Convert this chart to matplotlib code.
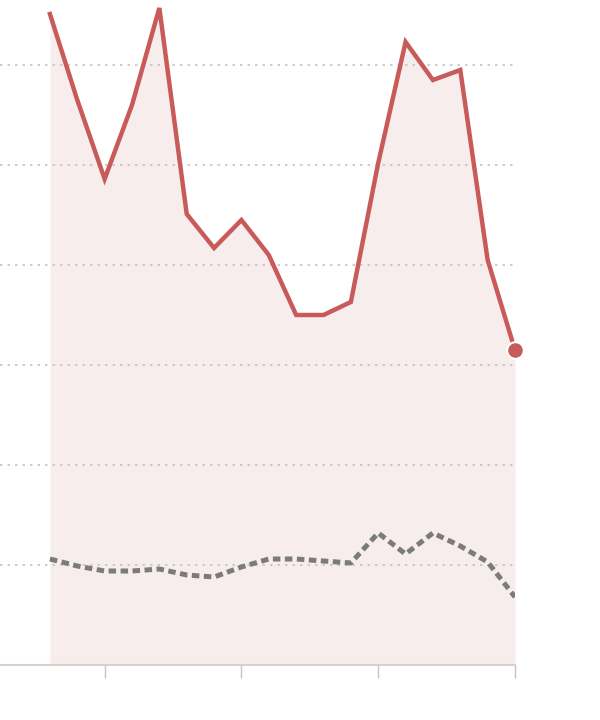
import numpy as np
import matplotlib.pyplot as plt

# values (one point per period)
periods = list(range(18))
main_values = [6.51, 5.65, 4.86, 5.60, 6.57, 4.51, 4.17, 4.45, 4.10, 3.50,
               3.50, 3.63, 5.02, 6.23, 5.85, 5.95, 4.05, 3.15]
base_values = [1.06, 0.99, 0.94, 0.94, 0.96, 0.90, 0.88, 0.98, 1.06, 1.06,
               1.04, 1.02, 1.32, 1.11, 1.32, 1.19, 1.03, 0.68]
tick_positions = [2, 7, 12, 17]
grid_levels = [1, 2, 3, 4, 5, 6]

fig = plt.figure(figsize=(6, 7.2), dpi=100)
ax = fig.add_axes([0, 55 / 720, 515 / 600, 665 / 720])

ax.fill_between(periods, 0, main_values, color='#f7eded', linewidth=0, zorder=1)
for lvl in grid_levels:
    ax.axhline(lvl, color='#c9c1c1', linewidth=1.2, linestyle=(0, (1.5, 3)), zorder=2)

ax.plot(periods, base_values, color='#7b7b7b', linewidth=3.6,
        linestyle=(0, (1.5, 0.9)), zorder=3)
ax.plot(periods, main_values, color='#c85a5a', linewidth=3.2,
        solid_joinstyle='miter', zorder=4)
ax.plot(periods[-1], main_values[-1], 'o', color='#c85a5a', markersize=12,
        markeredgecolor='white', markeredgewidth=1.5, clip_on=False, zorder=5)

ax.set_xlim(-1.825, 17)
ax.set_ylim(0, 6.65)
for side in ['top', 'right', 'left']:
    ax.spines[side].set_visible(False)
ax.spines['bottom'].set_color('#d8d0d0')
ax.spines['bottom'].set_linewidth(1.5)
ax.set_xticks(tick_positions)
ax.set_xticklabels([])
ax.set_yticks([])
ax.tick_params(axis='x', length=9, width=1, color='#c4c4c4', direction='out')

fig.savefig('out.png', dpi=100)
